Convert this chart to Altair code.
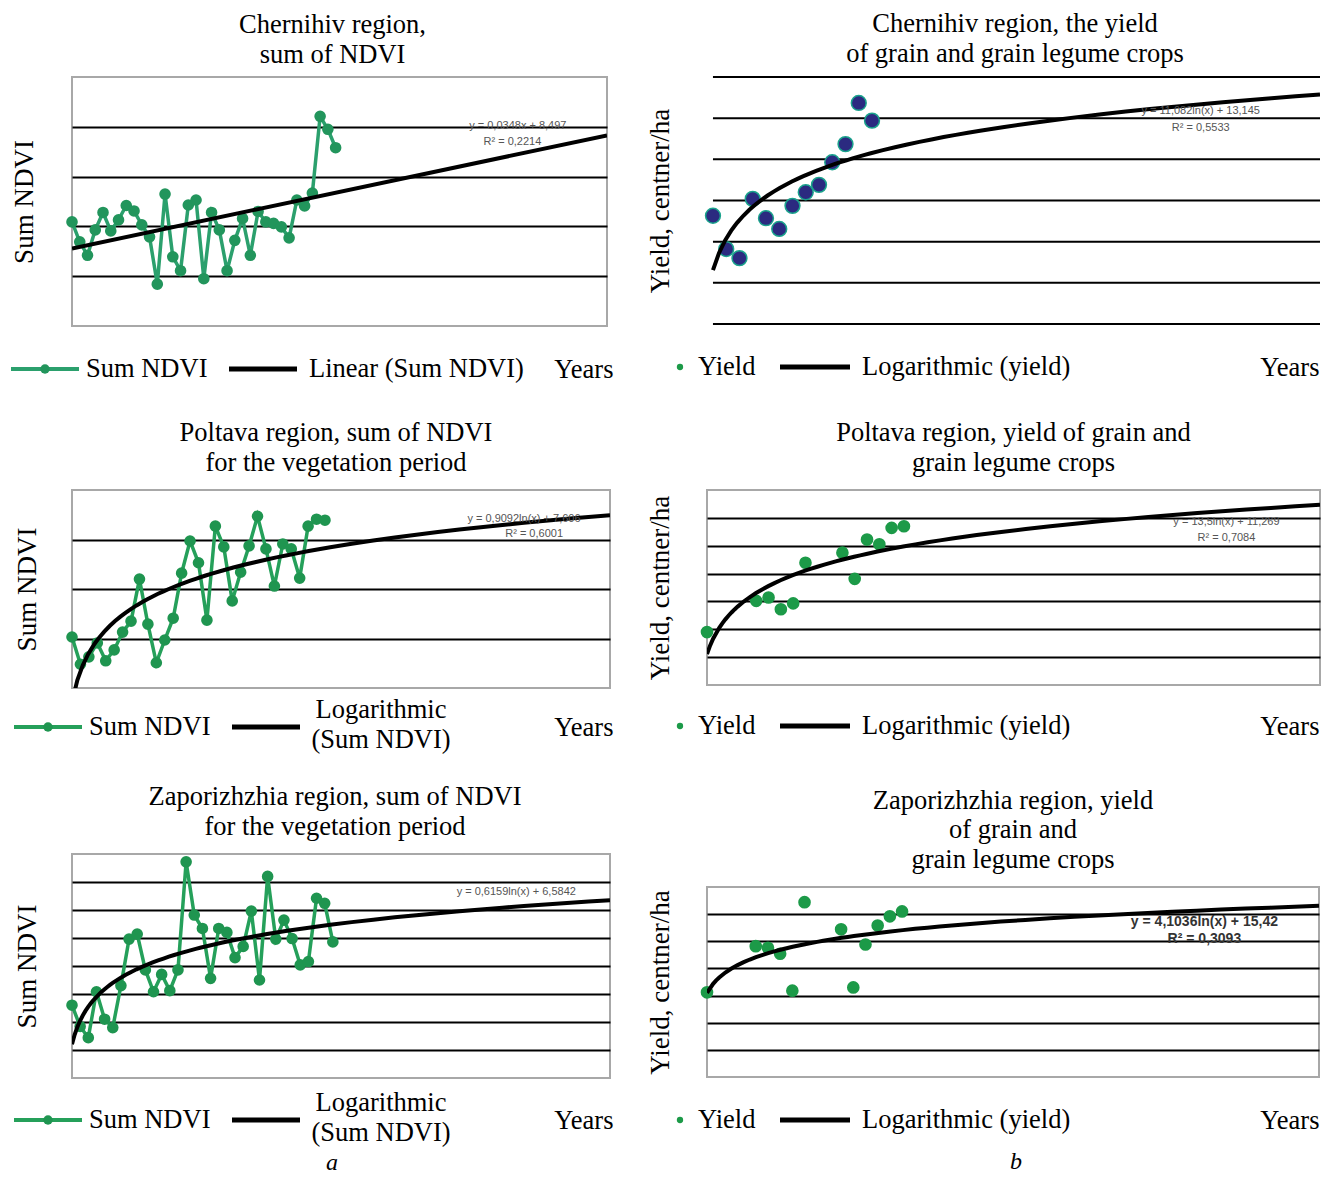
import altair as alt
import pandas as pd

SERIF = "Liberation Serif"
SANS = "Liberation Sans"
FS = 26.5

# ---------------- data ----------------
cher_ndvi = [9.09, 8.69, 8.42, 8.93, 9.28, 8.91, 9.13, 9.42, 9.31, 9.03, 8.79, 7.84,
             9.65, 8.39, 8.11, 9.43, 9.53, 7.95, 9.28, 8.93, 8.11, 8.72, 9.16, 8.42,
             9.30, 9.09, 9.06, 8.99, 8.77, 9.53, 9.41, 9.67, 11.21, 10.95, 10.58]
cher_yield = [26.3, 18.2, 16.0, 30.4, 25.7, 23.1, 28.7, 32.0, 33.8, 39.3, 43.7, 53.7, 49.4]
polt_ndvi = [8.53, 7.98, 8.13, 8.41, 8.05, 8.27, 8.63, 8.85, 9.70, 8.79, 8.01, 8.47,
             8.91, 9.82, 10.47, 10.03, 8.87, 10.77, 10.35, 9.26, 9.84, 10.37, 10.97,
             10.31, 9.56, 10.41, 10.31, 9.72, 10.77, 10.91, 10.89]
polt_yield_x = [1, 5, 6, 7, 8, 9, 12, 13, 14, 15, 16, 17]
polt_yield = [19.0, 30.2, 31.4, 27.2, 29.3, 43.9, 47.5, 38.1, 52.2, 50.5, 56.4, 57.0]
zap_ndvi = [7.30, 6.92, 6.72, 7.54, 7.05, 6.90, 7.65, 8.48, 8.57, 7.93, 7.54, 7.85,
            7.56, 7.93, 9.86, 8.91, 8.67, 7.78, 8.67, 8.60, 8.15, 8.35, 8.98, 7.75,
            9.60, 8.48, 8.82, 8.49, 8.02, 8.08, 9.21, 9.12, 8.43]
zap_yield_x = [1, 5, 6, 7, 8, 9, 12, 13, 14, 15, 16, 17]
zap_yield = [15.6, 24.1, 23.8, 22.7, 15.9, 32.2, 27.2, 16.5, 24.4, 27.9, 29.6, 30.5]

titles = {
    "p1": ["Chernihiv region,", "sum of NDVI"],
    "p2": ["Chernihiv region, the yield", "of grain and grain legume crops"],
    "p3": ["Poltava region, sum of NDVI", "for the vegetation period"],
    "p4": ["Poltava region, yield of grain and", "grain legume crops"],
    "p5": ["Zaporizhzhia region, sum of NDVI", "for the vegetation period"],
    "p6": ["Zaporizhzhia region, yield", "of grain and", "grain legume crops"],
}
equations = {
    "p1": ["y = 0,0348x + 8,497", "R² = 0,2214"],
    "p2": ["y = 11,082ln(x) + 13,145", "R² = 0,5533"],
    "p3": ["y = 0,9092ln(x) + 7,606", "R² = 0,6001"],
    "p4": ["y = 13,5ln(x) + 11,269", "R² = 0,7084"],
    "p5": ["y = 0,6159ln(x) + 6,5842"],
    "p6": ["y = 4,1036ln(x) + 15,42", "R² = 0,3093"],
}
eq_pos = {
    "p1": ([58.5, 57.8], [11.02, 10.70]),
    "p2": ([37.8, 37.8], [51.7, 47.6]),
    "p3": ([54.6, 55.8], [10.91, 10.61]),
    "p4": ([43.2, 43.2], [58.4, 52.7]),
    "p5": ([55.5], [9.32]),
    "p6": ([41.8, 41.8], [28.5, 25.4]),
}

NDVI_GREEN = "#2ba06d"
NDVI_GREEN2 = "#25a05a"
NDVI_DOT2 = "#1f9550"
YIELD_GREEN = "#1c9a48"
NAVY = "#2b2a80"
TEAL = "#1aa38c"
FRAME = "#a8a8a8"


def make_panel(key, xs, ys, width, height, xdom, ydom, grid, ytitle, kind,
               method, legend, frame=True, title_dx=0, title_offset=14,
               ytitle_pad=36, caption=None, grid_span=None):
    df = pd.DataFrame({"x": xs, "y": ys})
    xscale = alt.Scale(domain=xdom, nice=False, zero=False)
    yscale = alt.Scale(domain=ydom, nice=False, zero=False)
    xaxis = alt.Axis(title="Years", labels=False, ticks=False, domain=False, grid=False,
                     titleFont=SERIF, titleFontSize=FS, titleFontWeight="normal",
                     titleColor="black", titleAnchor="end", titleAlign="right",
                     titleBaseline="middle", titleX=legend["years_x"], titleY=legend["dy"])
    yaxis = alt.Axis(title=ytitle, labels=False, ticks=False, domain=False,
                     grid=grid_span is None,
                     values=grid, gridColor="black", gridWidth=2, gridOpacity=1,
                     titleFont=SERIF, titleFontSize=27, titleFontWeight="normal",
                     titleColor="black", titlePadding=ytitle_pad)
    X = alt.X("x:Q", scale=xscale, axis=xaxis)
    Y = alt.Y("y:Q", scale=yscale, axis=yaxis)

    layers = []
    if grid_span is not None:
        gdf = pd.DataFrame({"y": grid, "x": [grid_span[0]] * len(grid),
                            "x2": [grid_span[1]] * len(grid)})
        layers.append(alt.Chart(gdf).mark_rule(color="black", strokeWidth=2)
                      .encode(x=X, x2="x2:Q", y=Y))
    if kind == "line":
        col = legend["color"]
        layers.append(alt.Chart(df).mark_line(color=col, strokeWidth=3.5).encode(x=X, y=Y))
        layers.append(alt.Chart(df).mark_circle(color=legend["dot"], size=135, opacity=1)
                      .encode(x=X, y=Y))
    elif kind == "navy":
        layers.append(alt.Chart(df).mark_circle(fill=NAVY, stroke=TEAL, strokeWidth=1.5,
                                                size=220, opacity=1).encode(x=X, y=Y))
    else:
        layers.append(alt.Chart(df).mark_circle(color=YIELD_GREEN, size=160, opacity=1)
                      .encode(x=X, y=Y))

    ext = [max(1, xdom[0]), xdom[1]]
    trend = (alt.Chart(df)
             .transform_regression("x", "y", method=method, extent=ext)
             .mark_line(color="black", strokeWidth=4, clip=True)
             .encode(x=X, y=Y))
    layers.append(trend)

    ex, ey = eq_pos[key]
    eq_df = pd.DataFrame({"x": ex, "y": ey, "t": equations[key]})
    big = key == "p6"
    layers.append(alt.Chart(eq_df).mark_text(font=SANS, fontSize=14 if big else 11,
                                             fontWeight="bold" if big else "normal",
                                             color="#333333" if big else "#555555")
                  .encode(x=X, y=Y, text="t:N"))

    one = pd.DataFrame({"k": [0]})
    ly = height + legend["dy"]
    if kind == "line":
        layers.append(alt.Chart(one).mark_rule(color=legend["color"], strokeWidth=4)
                      .encode(x=alt.value(legend["s0"]), x2=alt.value(legend["s1"]),
                              y=alt.value(ly)))
        layers.append(alt.Chart(one).mark_circle(color=legend["dot"], size=90, opacity=1)
                      .encode(x=alt.value((legend["s0"] + legend["s1"]) / 2), y=alt.value(ly)))
    else:
        layers.append(alt.Chart(one).mark_circle(color=YIELD_GREEN, size=40, opacity=1)
                      .encode(x=alt.value(legend["s0"]), y=alt.value(ly)))
    layers.append(alt.Chart(one).mark_text(font=SERIF, fontSize=FS, align="left",
                                           baseline="middle", color="black")
                  .encode(x=alt.value(legend["t0"]), y=alt.value(ly),
                          text=alt.value(legend["label0"])))
    layers.append(alt.Chart(one).mark_rule(color="black", strokeWidth=5)
                  .encode(x=alt.value(legend["r0"]), x2=alt.value(legend["r1"]),
                          y=alt.value(ly)))
    lab = legend["label1"]
    if len(lab) == 1:
        layers.append(alt.Chart(one).mark_text(font=SERIF, fontSize=FS, align="left",
                                               baseline="middle", color="black")
                      .encode(x=alt.value(legend["t1"]), y=alt.value(ly),
                              text=alt.value(lab[0])))
    else:
        for i, line in enumerate(lab):
            layers.append(alt.Chart(one).mark_text(font=SERIF, fontSize=FS, align="center",
                                                   baseline="middle", color="black")
                          .encode(x=alt.value(legend["t1"]),
                                  y=alt.value(ly - 17 + 30 * i),
                                  text=alt.value(line)))
    if caption is not None:
        layers.append(alt.Chart(one).mark_text(font=SERIF, fontSize=24, fontStyle="italic",
                                               align="center", baseline="alphabetic",
                                               color="black")
                      .encode(x=alt.value(caption[1]), y=alt.value(height + caption[2]),
                              text=alt.value(caption[0])))

    view = alt.ViewBackground(stroke=FRAME if frame else "transparent", strokeWidth=2)
    return alt.layer(*layers).properties(
        width=width, height=height, view=view,
        title=alt.TitleParams(titles[key], font=SERIF, fontSize=FS, fontWeight="normal",
                              color="black", lineHeight=29.5, anchor="middle", frame="group",
                              dx=title_dx, offset=title_offset),
    )


def idx(n):
    return list(range(1, n + 1))


RIGHT_LEG = dict(dy=43, s0=-27, t0=-9, r0=73, r1=143, t1=155,
                 label0="Yield", label1=["Logarithmic (yield)"], years_x=612)

p1 = make_panel("p1", idx(len(cher_ndvi)), cher_ndvi, 535, 249, [1, 70], [7, 12],
                [8, 9, 10, 11], "Sum NDVI", "line", "linear",
                dict(dy=43, s0=-61, s1=7, t0=14, r0=157, r1=225, t1=237,
                     label0="Sum NDVI", label1=["Linear (Sum NDVI)"], years_x=541,
                     color=NDVI_GREEN, dot="#22955c"),
                title_dx=-7, ytitle_pad=34, title_offset=9)
p2 = make_panel("p2", idx(len(cher_yield)), cher_yield, 613, 247, [0.55, 46.8], [0, 60],
                [0, 10, 20, 30, 40, 50, 60], "Yield, centner/ha", "navy", "log",
                dict(RIGHT_LEG, dy=43),
                frame=False, title_dx=1.5, ytitle_pad=33, grid_span=(1, 46.8),
                title_offset=9)
p3 = make_panel("p3", idx(len(polt_ndvi)), polt_ndvi, 538, 198, [1, 64.8], [7.5, 11.5],
                [8.5, 9.5, 10.5], "Sum NDVI", "line", "log",
                dict(dy=39, s0=-58, s1=10, t0=17, r0=160, r1=228, t1=309,
                     label0="Sum NDVI", label1=["Logarithmic", "(Sum NDVI)"], years_x=541,
                     color=NDVI_GREEN2, dot=NDVI_DOT2),
                title_dx=-5, ytitle_pad=31)
p4 = make_panel("p4", polt_yield_x, polt_yield, 613, 195, [1, 50.8], [0, 70],
                [10, 20, 30, 40, 50, 60], "Yield, centner/ha", "green", "log",
                dict(RIGHT_LEG, dy=41),
                ytitle_pad=33)
p5 = make_panel("p5", idx(len(zap_ndvi)), zap_ndvi, 538, 224, [1, 67], [6, 10],
                [6.5, 7, 7.5, 8, 8.5, 9, 9.5], "Sum NDVI", "line", "log",
                dict(dy=42, s0=-58, s1=10, t0=17, r0=160, r1=228, t1=309,
                     label0="Sum NDVI", label1=["Logarithmic", "(Sum NDVI)"], years_x=541,
                     color=NDVI_GREEN2, dot=NDVI_DOT2),
                title_dx=-6, ytitle_pad=31, caption=("a", 260, 92))
p6 = make_panel("p6", zap_yield_x, zap_yield, 612, 190, [1, 51.2], [0, 35],
                [5, 10, 15, 20, 25, 30], "Yield, centner/ha", "green", "log",
                dict(RIGHT_LEG, dy=43),
                ytitle_pad=33, caption=("b", 309, 92))

left = alt.concat(alt.concat(p1, p3, columns=1, align="none", spacing=35), p5,
                  columns=1, align="none", spacing=28)
right = alt.concat(alt.concat(p2, p4, columns=1, align="none", spacing=37), p6,
                   columns=1, align="none", spacing=45)

chart = alt.hconcat(left, right, spacing=31).properties(
    padding={"left": 0, "top": 2, "right": 0, "bottom": 0}
).configure(background="white")

chart.save("out.html", embed_options={"renderer": "svg", "actions": False})
